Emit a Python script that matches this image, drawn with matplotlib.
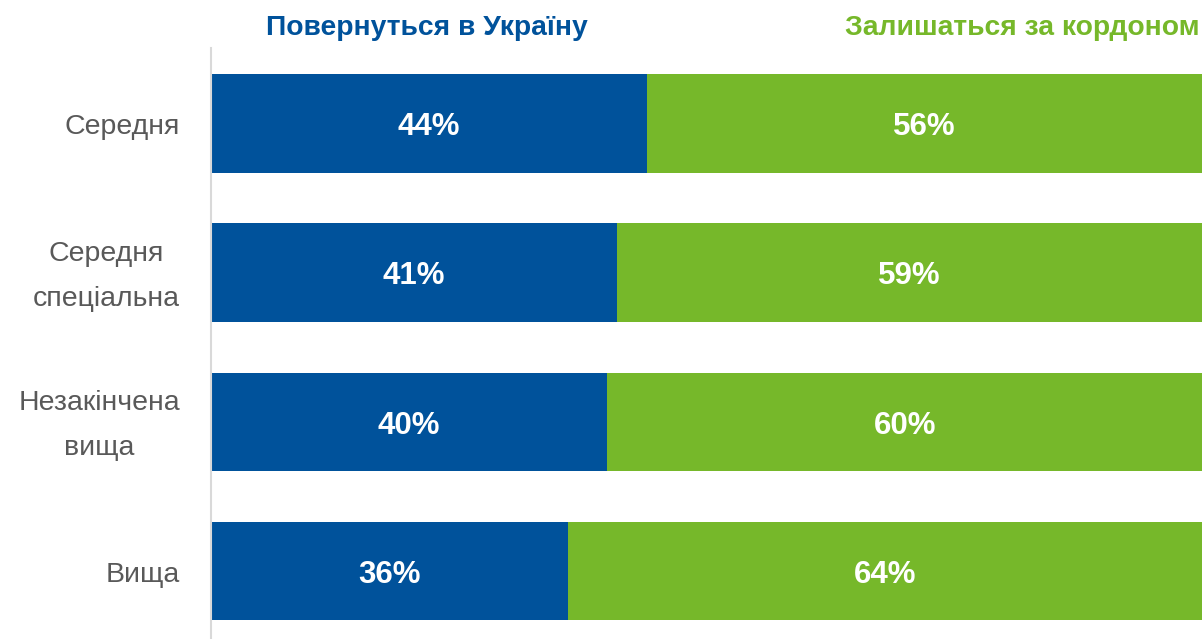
import matplotlib
matplotlib.use("Agg")
import matplotlib.pyplot as plt

categories = ["Середня", "Середня\nспеціальна", "Незакінчена\nвища", "Вища"]
return_home = [44, 41, 40, 36]
stay_abroad = [56, 59, 60, 64]
series_names = ["Повернуться в Україну", "Залишаться за кордоном"]

BLUE = "#00529B"
GREEN = "#76B82A"
GRAY = "#595959"

plt.rcParams["font.family"] = ["Liberation Sans", "DejaVu Sans"]

fig = plt.figure(figsize=(12.04, 6.39), dpi=100)
ax = fig.add_axes([211 / 1204, 0, (1202 - 211) / 1204, (639 - 48) / 639])

y = list(range(len(categories)))
ax.barh(y, return_home, height=0.66, color=BLUE)
ax.barh(y, stay_abroad, left=return_home, height=0.66, color=GREEN)

# text in the original sits a touch below the bar centre
for i in y:
    ax.text(return_home[i] / 2, i + 0.025, f"{return_home[i]}%", ha="center",
            va="center", color="white", fontsize=22.5, fontweight="bold")
    ax.text(return_home[i] + stay_abroad[i] / 2, i + 0.025, f"{stay_abroad[i]}%",
            ha="center", va="center", color="white", fontsize=22.5, fontweight="bold")
    ax.text(-0.0313, i + 0.025, categories[i], transform=ax.get_yaxis_transform(),
            ha="right", va="center", multialignment="center", fontsize=20.5,
            color=GRAY, linespacing=1.93)

ax.set_xlim(0, 100)
ax.set_ylim(3.456, -0.506)
ax.set_yticks([])
ax.set_xticks([])
for side in ["top", "right", "bottom"]:
    ax.spines[side].set_visible(False)
ax.spines["left"].set_color("#D9D9D9")
ax.spines["left"].set_linewidth(1.5)

fig.text(427 / 1204, 1 - 28 / 639, series_names[0], ha="center", va="center",
         color=BLUE, fontsize=20.3, fontweight="bold")
fig.text(1200 / 1204, 1 - 28 / 639, series_names[1], ha="right", va="center",
         color=GREEN, fontsize=20.3, fontweight="bold")

fig.savefig("out.png", dpi=100)
